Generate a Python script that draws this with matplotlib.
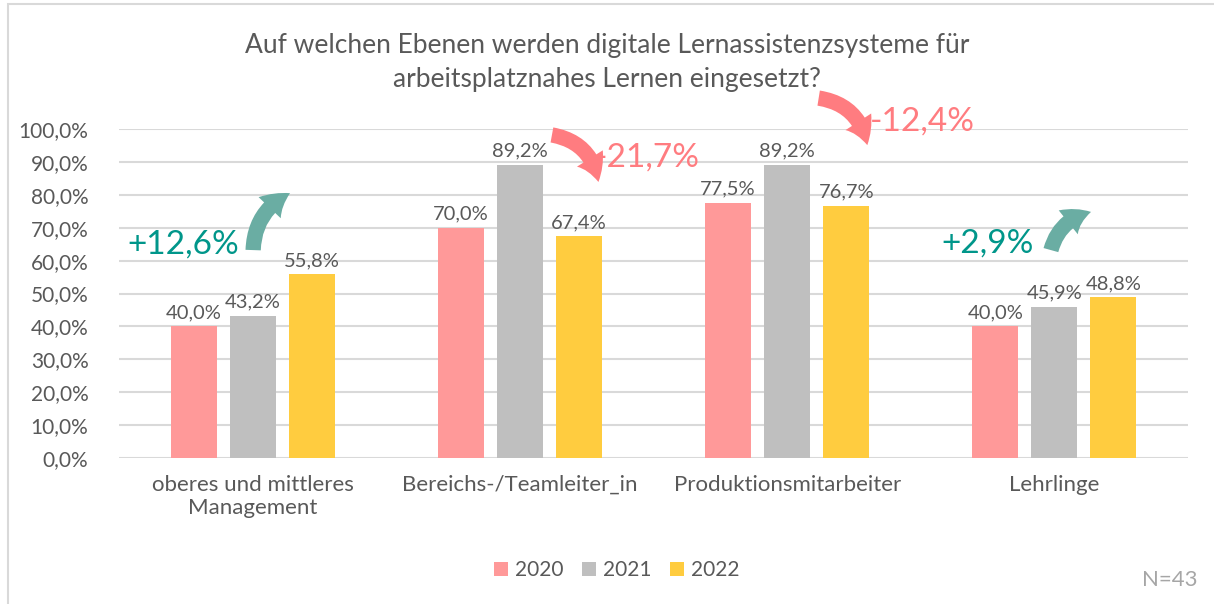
import matplotlib.pyplot as plt
from matplotlib.patches import FancyArrowPatch, Rectangle
import numpy as np

plt.rcParams['font.family'] = ['Lato', 'DejaVu Sans']

categories = ['oberes und mittleres\nManagement', 'Bereichs-/Teamleiter_in',
              'Produktionsmitarbeiter', 'Lehrlinge']
years = ['2020', '2021', '2022']
v2020 = [40.0, 70.0, 77.5, 40.0]
v2021 = [43.2, 89.2, 89.2, 45.9]
v2022 = [55.8, 67.4, 76.7, 48.8]
changes = ['+12,6%', '-21,7%', '-12,4%', '+2,9%']

colors = ['#FF9999', '#BFBFBF', '#FFCC3F']
txt = '#595959'
teal_arrow = '#6AADA3'
teal_txt = '#00968A'
red = '#FF7C80'

fig = plt.figure(figsize=(12.14, 6.04), dpi=100)
ax = fig.add_axes([0.098, 0.2417, 0.8806, 0.5447])

x = np.arange(len(categories))
w = 0.172
step = 0.221
for i, (vals, c, yr) in enumerate(zip([v2020, v2021, v2022], colors, years)):
    bars = ax.bar(x + (i - 1) * step, vals, w, color=c, label=yr, zorder=3)
    for b, v in zip(bars, vals):
        ax.text(b.get_x() + b.get_width() / 2, v + 1.6, f'{v:.1f}%'.replace('.', ','),
                ha='center', va='bottom', fontsize=14.5, color=txt)

ax.set_ylim(0, 100)
ax.set_xlim(-0.5, 3.5)
ax.set_yticks(np.arange(0, 101, 10))
ax.set_yticklabels([f'{t:.1f}%'.replace('.', ',') for t in np.arange(0, 101, 10)])
ax.set_xticks(x)
ax.set_xticklabels(categories)
ax.tick_params(axis='both', length=0, colors=txt)
ax.tick_params(axis='y', pad=22, labelsize=15)
ax.tick_params(axis='x', pad=12, labelsize=16)
ax.grid(axis='y', color='#D9D9D9', lw=1.5, zorder=0)
for s in ax.spines.values():
    s.set_visible(False)

# change arrows and labels
arrows = [((0.002, 63.2), (0.14, 80.5), -0.3, teal_arrow),
          ((1.12, 98.2), (1.294, 83.9), -0.35, red),
          ((2.118, 109.4), (2.30, 95.1), -0.35, red),
          ((2.987, 63.2), (3.137, 74.8), -0.3, teal_arrow)]
for (p0, p1, rad, c) in arrows:
    a = FancyArrowPatch(p0, p1, connectionstyle=f'arc3,rad={rad}',
                        arrowstyle='simple,head_width=22,head_length=18,tail_width=11',
                        color=c, lw=0, clip_on=False, zorder=5, shrinkA=0, shrinkB=0)
    ax.add_patch(a)

label_pos = [(-0.26, 65.0), (1.478, 91.2), (2.507, 102.4), (2.75, 65.3)]
for (lx, ly), t in zip(label_pos, changes):
    c = teal_txt if t.startswith('+') else red
    ax.text(lx, ly, t, ha='center', va='center', fontsize=24, color=c, clip_on=False)

fig.text(0.5, 1 - 45 / 604, 'Auf welchen Ebenen werden digitale Lernassistenzsysteme für',
         ha='center', va='center', fontsize=19, color=txt)
fig.text(0.5, 1 - 80 / 604, 'arbeitsplatznahes Lernen eingesetzt?',
         ha='center', va='center', fontsize=19, color=txt)

fig.legend(loc='center', bbox_to_anchor=(0.508, 1 - 570 / 604), ncol=3, frameon=False,
           fontsize=15, labelcolor=txt, handlelength=0.65, handleheight=0.65,
           handletextpad=0.35, columnspacing=0.9)

fig.text(1197 / 1214, 1 - 580 / 604, 'N=43', ha='right', va='center', fontsize=16,
         color='#A6A6A6')

fig.patches.append(Rectangle((8 / 1214, -0.1), 1.2, 1 - 4 / 604 + 0.1,
                             transform=fig.transFigure, fill=False,
                             edgecolor='#D9D9D9', lw=1.5))

fig.savefig('out.png', dpi=100)
